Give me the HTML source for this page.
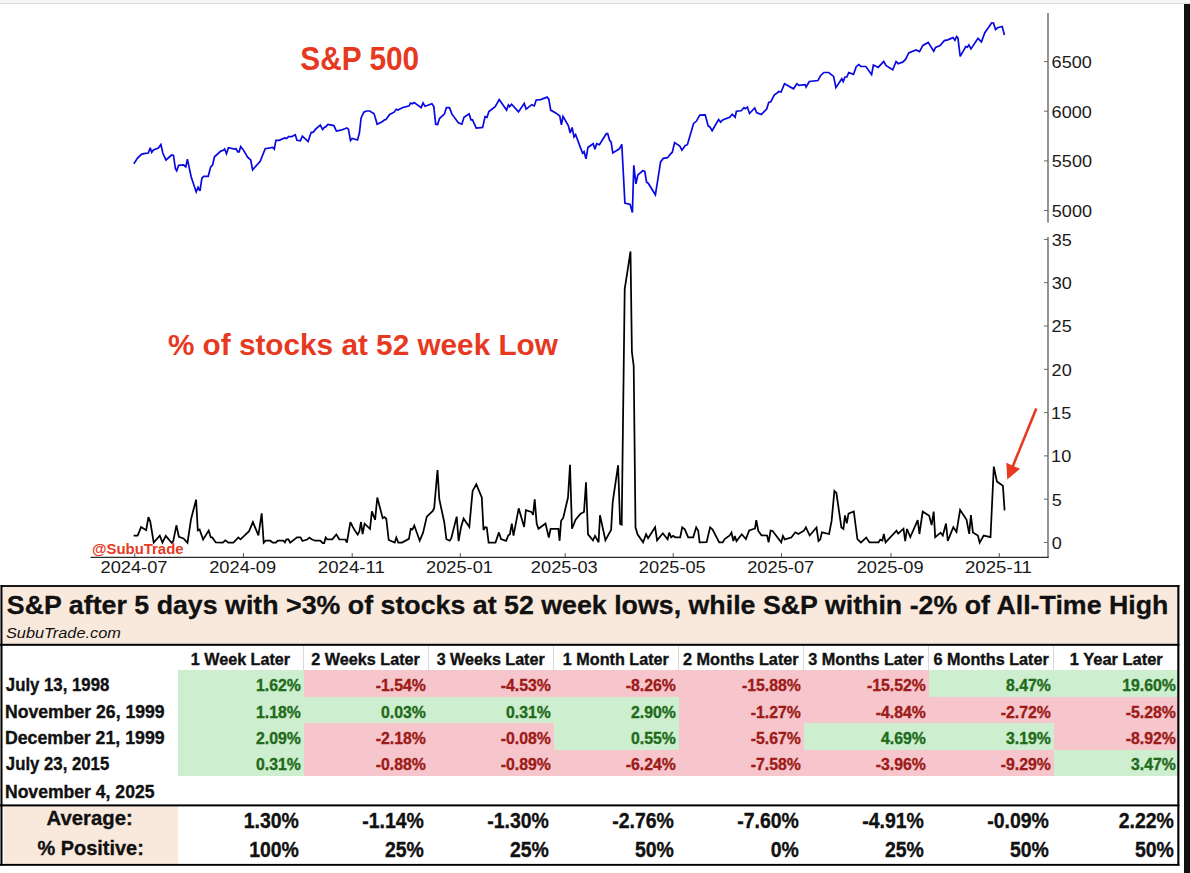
<!DOCTYPE html>
<html><head><meta charset="utf-8">
<style>
html,body{margin:0;padding:0;background:#fff;}
body{width:1190px;height:873px;position:relative;overflow:hidden;}
svg{position:absolute;left:0;top:0;}
text{font-family:"Liberation Sans",sans-serif;}
#top{position:absolute;left:0;top:0;width:1190px;height:3px;background:#f6f6f8;border-bottom:1px solid #dcdcdf;}
#rbar{position:absolute;left:1184px;top:4px;width:6px;height:869px;background:#111;}
</style></head>
<body>
<svg width="1190" height="873" viewBox="0 0 1190 873">
<style>rect{shape-rendering:crispEdges}</style>
<path d="M1048.0,13 V222.5" stroke="#666" stroke-width="1.4" fill="none"/>
<path d="M1048.0,237 V557.3" stroke="#666" stroke-width="1.4" fill="none"/>
<path d="M90.5,557.3 H1048.7" stroke="#2a2a2a" stroke-width="1.3" fill="none"/>
<path d="M1044.0,61.6 H1048.0" stroke="#666" stroke-width="1"/>
<text x="1051.60" y="67.90" font-size="16.60" font-weight="normal" font-style="normal" fill="#1a1a1a" textLength="40.25" lengthAdjust="spacingAndGlyphs">6500</text>
<path d="M1044.0,111.2 H1048.0" stroke="#666" stroke-width="1"/>
<text x="1051.60" y="117.50" font-size="16.60" font-weight="normal" font-style="normal" fill="#1a1a1a" textLength="40.25" lengthAdjust="spacingAndGlyphs">6000</text>
<path d="M1044.0,160.9 H1048.0" stroke="#666" stroke-width="1"/>
<text x="1051.78" y="167.20" font-size="16.60" font-weight="normal" font-style="normal" fill="#1a1a1a" textLength="40.25" lengthAdjust="spacingAndGlyphs">5500</text>
<path d="M1044.0,210.5 H1048.0" stroke="#666" stroke-width="1"/>
<text x="1051.78" y="216.80" font-size="16.60" font-weight="normal" font-style="normal" fill="#1a1a1a" textLength="40.25" lengthAdjust="spacingAndGlyphs">5000</text>
<path d="M1044.0,542.5 H1048.0" stroke="#666" stroke-width="1"/>
<text x="1051.79" y="548.80" font-size="16.60" font-weight="normal" font-style="normal" fill="#1a1a1a" textLength="10.06" lengthAdjust="spacingAndGlyphs">0</text>
<path d="M1044.0,499.2 H1048.0" stroke="#666" stroke-width="1"/>
<text x="1051.78" y="505.50" font-size="16.60" font-weight="normal" font-style="normal" fill="#1a1a1a" textLength="10.06" lengthAdjust="spacingAndGlyphs">5</text>
<path d="M1044.0,455.9 H1048.0" stroke="#666" stroke-width="1"/>
<text x="1051.12" y="462.20" font-size="16.60" font-weight="normal" font-style="normal" fill="#1a1a1a" textLength="20.13" lengthAdjust="spacingAndGlyphs">10</text>
<path d="M1044.0,412.6 H1048.0" stroke="#666" stroke-width="1"/>
<text x="1051.12" y="418.90" font-size="16.60" font-weight="normal" font-style="normal" fill="#1a1a1a" textLength="20.13" lengthAdjust="spacingAndGlyphs">15</text>
<path d="M1044.0,369.3 H1048.0" stroke="#666" stroke-width="1"/>
<text x="1051.60" y="375.60" font-size="16.60" font-weight="normal" font-style="normal" fill="#1a1a1a" textLength="20.13" lengthAdjust="spacingAndGlyphs">20</text>
<path d="M1044.0,326.0 H1048.0" stroke="#666" stroke-width="1"/>
<text x="1051.60" y="332.30" font-size="16.60" font-weight="normal" font-style="normal" fill="#1a1a1a" textLength="20.13" lengthAdjust="spacingAndGlyphs">25</text>
<path d="M1044.0,282.7 H1048.0" stroke="#666" stroke-width="1"/>
<text x="1051.81" y="289.00" font-size="16.60" font-weight="normal" font-style="normal" fill="#1a1a1a" textLength="20.13" lengthAdjust="spacingAndGlyphs">30</text>
<path d="M1044.0,239.4 H1048.0" stroke="#666" stroke-width="1"/>
<text x="1051.81" y="245.70" font-size="16.60" font-weight="normal" font-style="normal" fill="#1a1a1a" textLength="20.13" lengthAdjust="spacingAndGlyphs">35</text>
<path d="M134.8,557 V553" stroke="#555" stroke-width="1"/>
<text x="100.49" y="573.10" font-size="16.60" font-weight="normal" font-style="normal" fill="#1a1a1a" textLength="67.03" lengthAdjust="spacingAndGlyphs">2024-07</text>
<path d="M243.5,557 V553" stroke="#555" stroke-width="1"/>
<text x="209.19" y="573.10" font-size="16.60" font-weight="normal" font-style="normal" fill="#1a1a1a" textLength="66.97" lengthAdjust="spacingAndGlyphs">2024-09</text>
<path d="M352.2,557 V553" stroke="#555" stroke-width="1"/>
<text x="317.87" y="573.10" font-size="16.60" font-weight="normal" font-style="normal" fill="#1a1a1a" textLength="67.02" lengthAdjust="spacingAndGlyphs">2024-11</text>
<path d="M460.3,557 V553" stroke="#555" stroke-width="1"/>
<text x="425.99" y="573.10" font-size="16.60" font-weight="normal" font-style="normal" fill="#1a1a1a" textLength="66.99" lengthAdjust="spacingAndGlyphs">2025-01</text>
<path d="M565.2,557 V553" stroke="#555" stroke-width="1"/>
<text x="530.89" y="573.10" font-size="16.60" font-weight="normal" font-style="normal" fill="#1a1a1a" textLength="66.89" lengthAdjust="spacingAndGlyphs">2025-03</text>
<path d="M673.2,557 V553" stroke="#555" stroke-width="1"/>
<text x="638.89" y="573.10" font-size="16.60" font-weight="normal" font-style="normal" fill="#1a1a1a" textLength="66.86" lengthAdjust="spacingAndGlyphs">2025-05</text>
<path d="M781.5,557 V553" stroke="#555" stroke-width="1"/>
<text x="747.19" y="573.10" font-size="16.60" font-weight="normal" font-style="normal" fill="#1a1a1a" textLength="67.03" lengthAdjust="spacingAndGlyphs">2025-07</text>
<path d="M891.0,557 V553" stroke="#555" stroke-width="1"/>
<text x="856.69" y="573.10" font-size="16.60" font-weight="normal" font-style="normal" fill="#1a1a1a" textLength="66.97" lengthAdjust="spacingAndGlyphs">2025-09</text>
<path d="M999.3,557 V553" stroke="#555" stroke-width="1"/>
<text x="964.97" y="573.10" font-size="16.60" font-weight="normal" font-style="normal" fill="#1a1a1a" textLength="67.02" lengthAdjust="spacingAndGlyphs">2025-11</text>
<path d="M133.8,163.7 L137.6,158.1 L141.4,154.3 L143.9,153.7 L148.3,153.0 L150.2,147.7 L151.7,152.4 L153.4,149.9 L158.4,148.0 L160.9,144.5 L162.8,153.0 L166.0,160.0 L171.6,155.0 L173.5,155.5 L175.4,168.8 L176.7,170.9 L178.6,165.4 L183.6,165.0 L185.8,166.9 L187.4,159.1 L191.2,177.0 L196.2,191.9 L198.1,187.3 L200.0,190.8 L201.9,178.2 L203.8,176.3 L208.2,176.3 L210.7,166.9 L212.6,165.0 L214.5,156.8 L220.8,151.1 L223.3,150.3 L224.6,149.0 L226.5,153.7 L228.4,147.7 L234.7,149.2 L235.9,148.6 L237.8,151.8 L239.1,151.8 L240.7,146.5 L243.8,150.6 L247.6,157.1 L250.7,160.0 L252.6,169.8 L260.2,161.3 L265.2,148.7 L272.8,147.4 L274.3,149.1 L275.9,140.3 L279.1,140.3 L284.8,138.0 L286.6,138.6 L288.5,136.7 L291.7,136.7 L295.2,134.8 L297.0,140.3 L300.3,140.8 L302.4,136.1 L308.1,141.5 L311.2,132.3 L313.1,132.3 L315.6,129.2 L320.3,125.1 L322.6,129.5 L324.5,127.3 L325.7,126.9 L327.9,124.4 L333.9,125.6 L336.4,131.1 L340.8,130.2 L346.9,127.9 L348.4,129.2 L350.5,140.5 L352.2,138.4 L357.5,140.0 L359.4,133.0 L361.1,117.9 L363.8,112.2 L366.3,111.0 L369.9,111.0 L372.0,112.6 L373.9,113.5 L375.2,117.3 L377.1,124.2 L382.1,121.7 L384.6,119.8 L385.9,119.5 L389.7,114.4 L394.1,112.2 L396.3,109.3 L397.9,110.1 L402.3,107.8 L409.2,105.9 L410.5,103.0 L412.4,103.8 L414.2,102.5 L421.2,107.6 L423.1,103.0 L425.0,106.3 L431.9,103.8 L433.8,106.6 L435.7,124.2 L437.6,124.5 L439.5,118.5 L444.5,113.9 L446.4,107.6 L449.5,107.6 L451.8,113.9 L458.4,122.7 L461.9,124.2 L464.0,117.3 L469.1,113.9 L471.0,119.8 L472.5,119.8 L476.3,128.2 L482.6,127.4 L485.1,116.6 L487.0,117.3 L488.9,111.6 L495.2,106.6 L499.2,99.6 L506.6,110.1 L508.4,105.0 L509.7,106.6 L511.6,104.3 L518.5,111.9 L524.2,103.4 L526.1,109.1 L531.8,104.7 L534.3,105.9 L536.2,100.0 L540.6,99.6 L547.1,97.1 L548.8,99.2 L550.7,110.1 L555.7,112.9 L559.8,116.0 L561.4,124.8 L563.0,116.4 L568.3,125.5 L570.2,133.0 L572.1,127.4 L574.0,136.8 L575.6,134.5 L579.7,145.6 L582.6,153.2 L584.1,151.7 L586.0,158.9 L587.9,147.5 L593.2,143.7 L594.9,149.2 L596.7,143.7 L599.4,144.7 L606.3,133.7 L607.7,133.7 L609.7,140.5 L611.1,141.9 L612.8,152.9 L619.4,148.8 L621.8,144.3 L624.9,203.1 L630.1,204.5 L632.4,212.4 L633.8,165.3 L635.9,183.8 L637.9,174.9 L642.7,170.8 L644.8,171.5 L646.6,182.2 L648.2,183.2 L655.4,194.8 L660.6,161.9 L663.3,158.4 L667.5,157.7 L670.2,154.3 L672.3,152.2 L674.6,142.6 L679.8,146.0 L681.9,150.2 L685.3,145.4 L687.4,144.7 L693.6,123.4 L696.3,121.3 L699.8,115.1 L705.2,114.9 L708.2,125.9 L709.9,126.9 L712.1,130.7 L718.6,119.5 L720.6,122.2 L722.7,120.0 L729.6,117.3 L732.3,114.2 L735.1,117.3 L736.4,111.2 L741.2,110.8 L744.0,107.6 L745.4,108.7 L747.4,107.1 L749.5,113.5 L754.7,108.0 L756.6,112.6 L761.2,114.5 L766.7,109.0 L768.7,102.5 L770.8,101.9 L774.2,95.0 L779.0,91.5 L781.1,92.0 L784.5,83.7 L793.5,88.8 L796.9,83.7 L799.0,85.4 L805.2,84.7 L806.1,87.0 L809.3,81.5 L818.0,80.5 L820.5,75.7 L823.9,72.5 L828.7,72.5 L833.6,76.4 L835.9,87.6 L841.8,78.8 L843.2,81.6 L845.0,77.0 L846.9,77.0 L848.7,72.5 L853.5,74.3 L856.2,66.7 L858.7,64.7 L861.0,66.5 L865.9,66.5 L871.6,74.7 L873.4,65.1 L878.2,67.4 L883.7,61.5 L886.2,65.6 L892.7,69.8 L896.1,61.5 L898.2,63.7 L903.0,61.9 L905.7,59.2 L908.7,53.0 L916.0,50.0 L919.5,51.6 L922.9,45.4 L928.2,42.4 L933.7,51.2 L935.6,47.4 L940.1,45.6 L944.3,40.6 L947.7,39.9 L953.0,37.6 L954.9,40.3 L956.6,36.5 L957.9,37.8 L960.2,56.3 L965.8,46.5 L967.4,47.2 L968.9,44.9 L971.0,48.9 L978.0,38.4 L981.4,41.9 L984.8,32.7 L988.5,27.4 L991.6,22.9 L993.5,23.0 L995.5,29.5 L997.6,27.8 L1002.2,26.5 L1004.4,35.0" stroke="#0808e0" stroke-width="1.7" fill="none" stroke-linejoin="miter" stroke-miterlimit="3"/>
<path d="M133.6,535.7 L137.6,535.7 L141.1,527.1 L146.2,530.2 L148.4,517.1 L150.2,521.3 L153.7,542.5 L159.8,535.6 L162.5,542.5 L165.8,535.9 L171.6,542.7 L173.2,541.3 L176.4,525.3 L178.9,536.9 L183.5,538.4 L187.5,542.7 L191.0,519.3 L196.1,499.6 L197.8,530.4 L199.6,529.4 L203.1,539.5 L208.7,530.6 L210.7,537.2 L212.2,537.4 L215.8,542.5 L222.8,542.7 L225.3,540.3 L228.4,542.7 L233.4,542.7 L238.4,537.4 L240.5,539.3 L249.1,531.2 L252.9,522.1 L258.4,535.4 L261.7,513.4 L263.7,542.7 L265.7,540.7 L270.3,540.7 L272.8,542.7 L275.8,542.7 L277.8,540.7 L283.4,540.7 L284.9,542.5 L286.4,539.3 L288.4,539.3 L290.2,542.7 L297.0,537.4 L300.5,537.4 L302.5,541.0 L307.1,539.5 L309.6,537.6 L311.6,539.3 L315.1,540.7 L320.2,540.7 L322.7,543.0 L324.2,543.0 L325.7,537.4 L327.2,539.3 L332.3,539.3 L336.3,534.4 L339.3,539.3 L345.4,539.5 L346.9,542.5 L350.4,522.1 L352.9,527.1 L355.0,530.7 L357.7,534.5 L359.4,531.3 L361.0,522.0 L362.6,534.2 L364.6,523.7 L370.0,528.8 L371.9,511.4 L375.1,519.8 L377.3,497.5 L382.7,518.2 L384.4,517.1 L386.3,518.8 L388.7,540.0 L394.7,542.5 L396.3,537.5 L398.3,542.5 L402.0,542.5 L408.9,538.9 L410.7,528.8 L412.5,529.4 L414.3,525.5 L419.7,540.7 L423.0,532.9 L426.8,516.6 L432.8,510.9 L434.2,507.9 L437.5,470.0 L439.3,499.2 L444.2,522.0 L446.4,539.2 L449.7,540.7 L451.3,538.1 L456.7,516.6 L458.6,541.1 L461.1,526.9 L463.6,518.5 L469.3,526.9 L472.6,490.9 L476.3,484.3 L481.8,497.5 L483.5,530.0 L485.4,527.0 L486.8,527.6 L488.6,542.6 L495.5,542.6 L498.9,532.4 L501.0,539.0 L506.1,540.8 L508.2,535.6 L509.9,534.2 L511.8,523.6 L513.5,535.6 L518.7,508.3 L524.1,527.0 L525.9,510.1 L531.3,511.9 L533.1,514.9 L534.7,499.3 L536.7,523.9 L538.5,528.8 L545.5,523.6 L548.8,537.5 L550.6,528.8 L558.4,528.8 L559.6,540.8 L561.1,520.7 L563.2,517.9 L568.0,497.5 L570.0,464.7 L572.0,528.8 L575.6,519.7 L580.6,513.7 L584.0,511.9 L586.0,482.2 L588.0,534.3 L593.0,540.3 L595.0,535.9 L598.6,542.3 L600.0,515.3 L605.4,540.3 L608.6,534.3 L611.1,529.9 L612.7,502.2 L618.1,465.2 L620.1,523.9 L621.7,524.7 L624.7,289.0 L630.5,251.5 L631.9,352.0 L633.7,366.0 L635.5,527.3 L637.5,534.3 L643.1,542.3 L646.1,534.3 L648.1,538.3 L655.1,527.3 L657.1,540.3 L662.8,533.3 L667.6,539.3 L669.2,532.7 L671.2,537.3 L673.2,535.9 L675.2,537.3 L680.2,537.3 L682.2,527.3 L684.8,529.3 L688.2,537.3 L693.2,537.3 L696.2,527.3 L698.2,530.7 L699.6,542.3 L706.6,542.1 L710.1,527.3 L712.6,529.5 L719.2,542.4 L722.7,542.4 L724.7,539.1 L729.7,535.5 L731.5,532.5 L733.3,541.1 L734.8,536.0 L736.5,541.1 L741.8,534.3 L745.9,539.1 L749.2,530.5 L753.4,529.0 L755.0,528.5 L756.3,520.2 L758.3,531.0 L761.5,535.3 L767.1,535.5 L768.6,542.4 L770.6,530.5 L772.6,531.0 L781.2,542.4 L782.9,536.0 L784.7,539.4 L791.3,537.6 L795.3,532.3 L798.3,534.0 L803.9,530.7 L805.9,527.3 L809.7,535.5 L816.5,527.5 L818.5,541.1 L820.2,539.6 L821.9,532.3 L829.1,534.0 L831.6,520.9 L834.4,491.0 L836.4,493.0 L841.4,527.5 L843.4,529.0 L845.0,515.4 L846.8,523.4 L848.5,513.6 L853.8,511.5 L857.4,539.1 L860.9,542.6 L866.2,537.6 L869.5,542.4 L878.5,542.4 L880.3,539.6 L882.4,540.6 L883.8,534.0 L885.6,542.4 L896.5,530.7 L898.2,533.7 L903.5,528.7 L905.2,541.1 L907.0,529.0 L910.3,537.1 L917.7,520.2 L919.4,534.0 L922.7,511.5 L929.2,515.9 L931.6,525.1 L933.7,511.6 L935.2,537.2 L940.6,532.7 L942.8,535.6 L946.0,523.6 L947.8,540.8 L953.3,527.2 L956.5,532.0 L960.1,509.9 L966.5,519.5 L969.2,533.9 L970.9,515.2 L972.9,532.4 L977.9,535.6 L979.7,542.6 L983.7,535.6 L990.5,537.2 L993.8,466.6 L996.9,481.5 L998.6,482.7 L1002.9,485.8 L1004.6,510.4" stroke="#000" stroke-width="1.75" fill="none" stroke-linejoin="miter" stroke-miterlimit="3"/>
<text x="300.36" y="69.70" font-size="32.60" font-weight="bold" font-style="normal" fill="#e6391f" textLength="118.84" lengthAdjust="spacingAndGlyphs">S&amp;P 500</text>
<text x="167.89" y="354.50" font-size="30.00" font-weight="bold" font-style="normal" fill="#e6391f" textLength="390.05" lengthAdjust="spacingAndGlyphs">% of stocks at 52 week Low</text>
<text x="92.05" y="554.40" font-size="14.10" font-weight="bold" font-style="normal" fill="#e6391f" textLength="91.46" lengthAdjust="spacingAndGlyphs">@SubuTrade</text>
<path d="M1036.3,408.6 L1012.5,467" stroke="#e6391f" stroke-width="2.6"/>
<path d="M1006.3,462.8 L1020.0,468.8 L1007.3,479.6 Z" fill="#e6391f"/>
<rect x="3" y="587" width="1174" height="56.5" fill="#f9e9dc"/>
<rect x="4" y="806" width="173.5" height="58" fill="#f9e9dc"/>
<rect x="178.0" y="670.3" width="125.5" height="26.2" fill="#cdeecf"/>
<rect x="303.5" y="670.3" width="125" height="26.2" fill="#f7c6cd"/>
<rect x="428.5" y="670.3" width="125" height="26.2" fill="#f7c6cd"/>
<rect x="553.5" y="670.3" width="125" height="26.2" fill="#f7c6cd"/>
<rect x="678.5" y="670.3" width="125" height="26.2" fill="#f7c6cd"/>
<rect x="803.5" y="670.3" width="125" height="26.2" fill="#f7c6cd"/>
<rect x="928.5" y="670.3" width="125" height="26.2" fill="#cdeecf"/>
<rect x="1053.5" y="670.3" width="125" height="26.2" fill="#cdeecf"/>
<rect x="178.0" y="696.5" width="125.5" height="26.8" fill="#cdeecf"/>
<rect x="303.5" y="696.5" width="125" height="26.8" fill="#cdeecf"/>
<rect x="428.5" y="696.5" width="125" height="26.8" fill="#cdeecf"/>
<rect x="553.5" y="696.5" width="125" height="26.8" fill="#cdeecf"/>
<rect x="678.5" y="696.5" width="125" height="26.8" fill="#f7c6cd"/>
<rect x="803.5" y="696.5" width="125" height="26.8" fill="#f7c6cd"/>
<rect x="928.5" y="696.5" width="125" height="26.8" fill="#f7c6cd"/>
<rect x="1053.5" y="696.5" width="125" height="26.8" fill="#f7c6cd"/>
<rect x="178.0" y="723.3" width="125.5" height="26.3" fill="#cdeecf"/>
<rect x="303.5" y="723.3" width="125" height="26.3" fill="#f7c6cd"/>
<rect x="428.5" y="723.3" width="125" height="26.3" fill="#f7c6cd"/>
<rect x="553.5" y="723.3" width="125" height="26.3" fill="#cdeecf"/>
<rect x="678.5" y="723.3" width="125" height="26.3" fill="#f7c6cd"/>
<rect x="803.5" y="723.3" width="125" height="26.3" fill="#cdeecf"/>
<rect x="928.5" y="723.3" width="125" height="26.3" fill="#cdeecf"/>
<rect x="1053.5" y="723.3" width="125" height="26.3" fill="#f7c6cd"/>
<rect x="178.0" y="749.6" width="125.5" height="26.4" fill="#cdeecf"/>
<rect x="303.5" y="749.6" width="125" height="26.4" fill="#f7c6cd"/>
<rect x="428.5" y="749.6" width="125" height="26.4" fill="#f7c6cd"/>
<rect x="553.5" y="749.6" width="125" height="26.4" fill="#f7c6cd"/>
<rect x="678.5" y="749.6" width="125" height="26.4" fill="#f7c6cd"/>
<rect x="803.5" y="749.6" width="125" height="26.4" fill="#f7c6cd"/>
<rect x="928.5" y="749.6" width="125" height="26.4" fill="#f7c6cd"/>
<rect x="1053.5" y="749.6" width="125" height="26.4" fill="#cdeecf"/>
<rect x="303.0" y="645.5" width="1" height="24.8" fill="#d9d9d9"/>
<rect x="428.0" y="645.5" width="1" height="24.8" fill="#d9d9d9"/>
<rect x="553.0" y="645.5" width="1" height="24.8" fill="#d9d9d9"/>
<rect x="678.0" y="645.5" width="1" height="24.8" fill="#d9d9d9"/>
<rect x="803.0" y="645.5" width="1" height="24.8" fill="#d9d9d9"/>
<rect x="928.0" y="645.5" width="1" height="24.8" fill="#d9d9d9"/>
<rect x="1053.0" y="645.5" width="1" height="24.8" fill="#d9d9d9"/>
<text x="190.80" y="664.60" font-size="16.40" font-weight="bold" font-style="normal" fill="#111" textLength="99.23" lengthAdjust="spacingAndGlyphs" stroke="#111" stroke-width="0.35">1 Week Later</text>
<text x="311.25" y="664.60" font-size="16.40" font-weight="bold" font-style="normal" fill="#111" textLength="108.59" lengthAdjust="spacingAndGlyphs" stroke="#111" stroke-width="0.35">2 Weeks Later</text>
<text x="436.65" y="664.60" font-size="16.40" font-weight="bold" font-style="normal" fill="#111" textLength="108.09" lengthAdjust="spacingAndGlyphs" stroke="#111" stroke-width="0.35">3 Weeks Later</text>
<text x="562.80" y="664.60" font-size="16.40" font-weight="bold" font-style="normal" fill="#111" textLength="106.02" lengthAdjust="spacingAndGlyphs" stroke="#111" stroke-width="0.35">1 Month Later</text>
<text x="682.95" y="664.60" font-size="16.40" font-weight="bold" font-style="normal" fill="#111" textLength="115.78" lengthAdjust="spacingAndGlyphs" stroke="#111" stroke-width="0.35">2 Months Later</text>
<text x="808.34" y="664.60" font-size="16.40" font-weight="bold" font-style="normal" fill="#111" textLength="115.28" lengthAdjust="spacingAndGlyphs" stroke="#111" stroke-width="0.35">3 Months Later</text>
<text x="933.62" y="664.60" font-size="16.40" font-weight="bold" font-style="normal" fill="#111" textLength="115.11" lengthAdjust="spacingAndGlyphs" stroke="#111" stroke-width="0.35">6 Months Later</text>
<text x="1069.78" y="664.60" font-size="16.40" font-weight="bold" font-style="normal" fill="#111" textLength="92.96" lengthAdjust="spacingAndGlyphs" stroke="#111" stroke-width="0.35">1 Year Later</text>
<text x="5.85" y="691.10" font-size="17.60" font-weight="bold" font-style="normal" fill="#111" textLength="103.46" lengthAdjust="spacingAndGlyphs" stroke="#111" stroke-width="0.35">July 13, 1998</text>
<text x="256.04" y="691.10" font-size="16.40" font-weight="bold" font-style="normal" fill="#1f6b1a" textLength="44.87" lengthAdjust="spacingAndGlyphs" stroke="#1f6b1a" stroke-width="0.35">1.62%</text>
<text x="375.77" y="691.10" font-size="16.40" font-weight="bold" font-style="normal" fill="#9c1b17" textLength="50.14" lengthAdjust="spacingAndGlyphs" stroke="#9c1b17" stroke-width="0.35">-1.54%</text>
<text x="500.77" y="691.10" font-size="16.40" font-weight="bold" font-style="normal" fill="#9c1b17" textLength="50.14" lengthAdjust="spacingAndGlyphs" stroke="#9c1b17" stroke-width="0.35">-4.53%</text>
<text x="625.77" y="691.10" font-size="16.40" font-weight="bold" font-style="normal" fill="#9c1b17" textLength="50.14" lengthAdjust="spacingAndGlyphs" stroke="#9c1b17" stroke-width="0.35">-8.26%</text>
<text x="741.98" y="691.10" font-size="16.40" font-weight="bold" font-style="normal" fill="#9c1b17" textLength="58.95" lengthAdjust="spacingAndGlyphs" stroke="#9c1b17" stroke-width="0.35">-15.88%</text>
<text x="866.98" y="691.10" font-size="16.40" font-weight="bold" font-style="normal" fill="#9c1b17" textLength="58.95" lengthAdjust="spacingAndGlyphs" stroke="#9c1b17" stroke-width="0.35">-15.52%</text>
<text x="1006.04" y="691.10" font-size="16.40" font-weight="bold" font-style="normal" fill="#1f6b1a" textLength="44.87" lengthAdjust="spacingAndGlyphs" stroke="#1f6b1a" stroke-width="0.35">8.47%</text>
<text x="1122.25" y="691.10" font-size="16.40" font-weight="bold" font-style="normal" fill="#1f6b1a" textLength="53.68" lengthAdjust="spacingAndGlyphs" stroke="#1f6b1a" stroke-width="0.35">19.60%</text>
<text x="4.94" y="717.50" font-size="17.60" font-weight="bold" font-style="normal" fill="#111" textLength="159.70" lengthAdjust="spacingAndGlyphs" stroke="#111" stroke-width="0.35">November 26, 1999</text>
<text x="256.04" y="717.50" font-size="16.40" font-weight="bold" font-style="normal" fill="#1f6b1a" textLength="44.87" lengthAdjust="spacingAndGlyphs" stroke="#1f6b1a" stroke-width="0.35">1.18%</text>
<text x="381.04" y="717.50" font-size="16.40" font-weight="bold" font-style="normal" fill="#1f6b1a" textLength="44.87" lengthAdjust="spacingAndGlyphs" stroke="#1f6b1a" stroke-width="0.35">0.03%</text>
<text x="506.04" y="717.50" font-size="16.40" font-weight="bold" font-style="normal" fill="#1f6b1a" textLength="44.87" lengthAdjust="spacingAndGlyphs" stroke="#1f6b1a" stroke-width="0.35">0.31%</text>
<text x="631.04" y="717.50" font-size="16.40" font-weight="bold" font-style="normal" fill="#1f6b1a" textLength="44.87" lengthAdjust="spacingAndGlyphs" stroke="#1f6b1a" stroke-width="0.35">2.90%</text>
<text x="750.77" y="717.50" font-size="16.40" font-weight="bold" font-style="normal" fill="#9c1b17" textLength="50.14" lengthAdjust="spacingAndGlyphs" stroke="#9c1b17" stroke-width="0.35">-1.27%</text>
<text x="875.77" y="717.50" font-size="16.40" font-weight="bold" font-style="normal" fill="#9c1b17" textLength="50.14" lengthAdjust="spacingAndGlyphs" stroke="#9c1b17" stroke-width="0.35">-4.84%</text>
<text x="1000.77" y="717.50" font-size="16.40" font-weight="bold" font-style="normal" fill="#9c1b17" textLength="50.14" lengthAdjust="spacingAndGlyphs" stroke="#9c1b17" stroke-width="0.35">-2.72%</text>
<text x="1125.77" y="717.50" font-size="16.40" font-weight="bold" font-style="normal" fill="#9c1b17" textLength="50.14" lengthAdjust="spacingAndGlyphs" stroke="#9c1b17" stroke-width="0.35">-5.28%</text>
<text x="4.93" y="744.00" font-size="17.60" font-weight="bold" font-style="normal" fill="#111" textLength="159.72" lengthAdjust="spacingAndGlyphs" stroke="#111" stroke-width="0.35">December 21, 1999</text>
<text x="256.04" y="744.00" font-size="16.40" font-weight="bold" font-style="normal" fill="#1f6b1a" textLength="44.87" lengthAdjust="spacingAndGlyphs" stroke="#1f6b1a" stroke-width="0.35">2.09%</text>
<text x="375.77" y="744.00" font-size="16.40" font-weight="bold" font-style="normal" fill="#9c1b17" textLength="50.14" lengthAdjust="spacingAndGlyphs" stroke="#9c1b17" stroke-width="0.35">-2.18%</text>
<text x="500.77" y="744.00" font-size="16.40" font-weight="bold" font-style="normal" fill="#9c1b17" textLength="50.14" lengthAdjust="spacingAndGlyphs" stroke="#9c1b17" stroke-width="0.35">-0.08%</text>
<text x="631.04" y="744.00" font-size="16.40" font-weight="bold" font-style="normal" fill="#1f6b1a" textLength="44.87" lengthAdjust="spacingAndGlyphs" stroke="#1f6b1a" stroke-width="0.35">0.55%</text>
<text x="750.77" y="744.00" font-size="16.40" font-weight="bold" font-style="normal" fill="#9c1b17" textLength="50.14" lengthAdjust="spacingAndGlyphs" stroke="#9c1b17" stroke-width="0.35">-5.67%</text>
<text x="881.04" y="744.00" font-size="16.40" font-weight="bold" font-style="normal" fill="#1f6b1a" textLength="44.87" lengthAdjust="spacingAndGlyphs" stroke="#1f6b1a" stroke-width="0.35">4.69%</text>
<text x="1006.04" y="744.00" font-size="16.40" font-weight="bold" font-style="normal" fill="#1f6b1a" textLength="44.87" lengthAdjust="spacingAndGlyphs" stroke="#1f6b1a" stroke-width="0.35">3.19%</text>
<text x="1125.77" y="744.00" font-size="16.40" font-weight="bold" font-style="normal" fill="#9c1b17" textLength="50.14" lengthAdjust="spacingAndGlyphs" stroke="#9c1b17" stroke-width="0.35">-8.92%</text>
<text x="5.85" y="770.40" font-size="17.60" font-weight="bold" font-style="normal" fill="#111" textLength="103.41" lengthAdjust="spacingAndGlyphs" stroke="#111" stroke-width="0.35">July 23, 2015</text>
<text x="256.04" y="770.40" font-size="16.40" font-weight="bold" font-style="normal" fill="#1f6b1a" textLength="44.87" lengthAdjust="spacingAndGlyphs" stroke="#1f6b1a" stroke-width="0.35">0.31%</text>
<text x="375.77" y="770.40" font-size="16.40" font-weight="bold" font-style="normal" fill="#9c1b17" textLength="50.14" lengthAdjust="spacingAndGlyphs" stroke="#9c1b17" stroke-width="0.35">-0.88%</text>
<text x="500.77" y="770.40" font-size="16.40" font-weight="bold" font-style="normal" fill="#9c1b17" textLength="50.14" lengthAdjust="spacingAndGlyphs" stroke="#9c1b17" stroke-width="0.35">-0.89%</text>
<text x="625.77" y="770.40" font-size="16.40" font-weight="bold" font-style="normal" fill="#9c1b17" textLength="50.14" lengthAdjust="spacingAndGlyphs" stroke="#9c1b17" stroke-width="0.35">-6.24%</text>
<text x="750.77" y="770.40" font-size="16.40" font-weight="bold" font-style="normal" fill="#9c1b17" textLength="50.14" lengthAdjust="spacingAndGlyphs" stroke="#9c1b17" stroke-width="0.35">-7.58%</text>
<text x="875.77" y="770.40" font-size="16.40" font-weight="bold" font-style="normal" fill="#9c1b17" textLength="50.14" lengthAdjust="spacingAndGlyphs" stroke="#9c1b17" stroke-width="0.35">-3.96%</text>
<text x="1000.77" y="770.40" font-size="16.40" font-weight="bold" font-style="normal" fill="#9c1b17" textLength="50.14" lengthAdjust="spacingAndGlyphs" stroke="#9c1b17" stroke-width="0.35">-9.29%</text>
<text x="1131.04" y="770.40" font-size="16.40" font-weight="bold" font-style="normal" fill="#1f6b1a" textLength="44.87" lengthAdjust="spacingAndGlyphs" stroke="#1f6b1a" stroke-width="0.35">3.47%</text>
<text x="4.94" y="797.50" font-size="17.60" font-weight="bold" font-style="normal" fill="#111" textLength="149.53" lengthAdjust="spacingAndGlyphs" stroke="#111" stroke-width="0.35">November 4, 2025</text>
<text x="46.61" y="825.00" font-size="20.50" font-weight="bold" font-style="normal" fill="#111" textLength="86.13" lengthAdjust="spacingAndGlyphs" stroke="#111" stroke-width="0.35">Average:</text>
<text x="37.42" y="855.20" font-size="20.50" font-weight="bold" font-style="normal" fill="#111" textLength="106.39" lengthAdjust="spacingAndGlyphs" stroke="#111" stroke-width="0.35">% Positive:</text>
<text x="243.74" y="827.60" font-size="21.50" font-weight="bold" font-style="normal" fill="#111" textLength="55.17" lengthAdjust="spacingAndGlyphs" stroke="#111" stroke-width="0.35">1.30%</text>
<text x="362.26" y="827.60" font-size="21.50" font-weight="bold" font-style="normal" fill="#111" textLength="61.65" lengthAdjust="spacingAndGlyphs" stroke="#111" stroke-width="0.35">-1.14%</text>
<text x="487.26" y="827.60" font-size="21.50" font-weight="bold" font-style="normal" fill="#111" textLength="61.65" lengthAdjust="spacingAndGlyphs" stroke="#111" stroke-width="0.35">-1.30%</text>
<text x="612.26" y="827.60" font-size="21.50" font-weight="bold" font-style="normal" fill="#111" textLength="61.65" lengthAdjust="spacingAndGlyphs" stroke="#111" stroke-width="0.35">-2.76%</text>
<text x="737.26" y="827.60" font-size="21.50" font-weight="bold" font-style="normal" fill="#111" textLength="61.65" lengthAdjust="spacingAndGlyphs" stroke="#111" stroke-width="0.35">-7.60%</text>
<text x="862.26" y="827.60" font-size="21.50" font-weight="bold" font-style="normal" fill="#111" textLength="61.65" lengthAdjust="spacingAndGlyphs" stroke="#111" stroke-width="0.35">-4.91%</text>
<text x="987.26" y="827.60" font-size="21.50" font-weight="bold" font-style="normal" fill="#111" textLength="61.65" lengthAdjust="spacingAndGlyphs" stroke="#111" stroke-width="0.35">-0.09%</text>
<text x="1118.74" y="827.60" font-size="21.50" font-weight="bold" font-style="normal" fill="#111" textLength="55.17" lengthAdjust="spacingAndGlyphs" stroke="#111" stroke-width="0.35">2.22%</text>
<text x="249.15" y="857.30" font-size="21.50" font-weight="bold" font-style="normal" fill="#111" textLength="49.76" lengthAdjust="spacingAndGlyphs" stroke="#111" stroke-width="0.35">100%</text>
<text x="384.97" y="857.30" font-size="21.50" font-weight="bold" font-style="normal" fill="#111" textLength="38.94" lengthAdjust="spacingAndGlyphs" stroke="#111" stroke-width="0.35">25%</text>
<text x="509.97" y="857.30" font-size="21.50" font-weight="bold" font-style="normal" fill="#111" textLength="38.94" lengthAdjust="spacingAndGlyphs" stroke="#111" stroke-width="0.35">25%</text>
<text x="634.97" y="857.30" font-size="21.50" font-weight="bold" font-style="normal" fill="#111" textLength="38.94" lengthAdjust="spacingAndGlyphs" stroke="#111" stroke-width="0.35">50%</text>
<text x="770.79" y="857.30" font-size="21.50" font-weight="bold" font-style="normal" fill="#111" textLength="28.12" lengthAdjust="spacingAndGlyphs" stroke="#111" stroke-width="0.35">0%</text>
<text x="884.97" y="857.30" font-size="21.50" font-weight="bold" font-style="normal" fill="#111" textLength="38.94" lengthAdjust="spacingAndGlyphs" stroke="#111" stroke-width="0.35">25%</text>
<text x="1009.97" y="857.30" font-size="21.50" font-weight="bold" font-style="normal" fill="#111" textLength="38.94" lengthAdjust="spacingAndGlyphs" stroke="#111" stroke-width="0.35">50%</text>
<text x="1134.97" y="857.30" font-size="21.50" font-weight="bold" font-style="normal" fill="#111" textLength="38.94" lengthAdjust="spacingAndGlyphs" stroke="#111" stroke-width="0.35">50%</text>
<text x="6.85" y="613.90" font-size="25.84" font-weight="bold" font-style="normal" fill="#111" textLength="1161.60" lengthAdjust="spacingAndGlyphs" stroke="#111" stroke-width="0.3">S&amp;P after 5 days with &gt;3% of stocks at 52 week lows, while S&amp;P within -2% of All-Time High</text>
<text x="5.94" y="638.40" font-size="14.66" font-weight="normal" font-style="italic" fill="#111" textLength="115.00" lengthAdjust="spacingAndGlyphs">SubuTrade.com</text>
<rect style="shape-rendering:auto" x="0" y="585.1" width="1179.4" height="1.8" fill="#000"/>
<rect style="shape-rendering:auto" x="0" y="585.1" width="0.9" height="280.4" fill="#777"/>
<rect style="shape-rendering:auto" x="0.9" y="585.1" width="1.6" height="280.4" fill="#000"/>
<rect style="shape-rendering:auto" x="1177.3" y="585.1" width="2.1" height="280.4" fill="#000"/>
<rect style="shape-rendering:auto" x="0" y="863.9" width="1179.4" height="1.9" fill="#000"/>
<rect style="shape-rendering:auto" x="0" y="643.8" width="1179.4" height="2.0" fill="#000"/>
<rect style="shape-rendering:auto" x="0" y="804.4" width="1179.4" height="2.0" fill="#000"/>
</svg>
<div id="top"></div>
<div id="rbar"></div>
</body></html>
